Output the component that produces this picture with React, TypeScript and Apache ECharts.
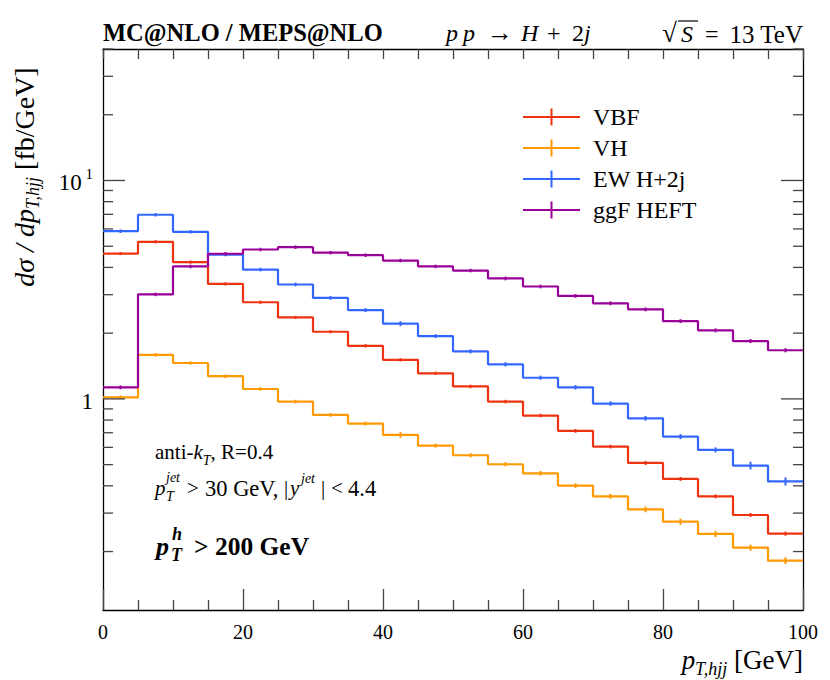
import React, { useEffect, useRef } from "react";
import * as echarts from "echarts";

// ---------- data ----------
const binEdges = [0, 5, 10, 15, 20, 25, 30, 35, 40, 45, 50, 55, 60, 65, 70, 75, 80, 85, 90, 95, 100];
const seriesNames = ["VBF", "VH", "EW H+2j", "ggF HEFT"];
const seriesColors = ["#EE3311", "#FF9900", "#3366FF", "#990099"];

const vbf = [4.63, 5.24, 4.23, 3.36, 2.77, 2.36, 2.03, 1.75, 1.51, 1.31, 1.14, 0.972, 0.839, 0.714, 0.605, 0.509, 0.43, 0.358, 0.294, 0.2415];
const vh = [1.017, 1.59, 1.46, 1.27, 1.11, 0.972, 0.845, 0.771, 0.684, 0.611, 0.552, 0.502, 0.456, 0.401, 0.358, 0.312, 0.274, 0.241, 0.2085, 0.1817];
const ew = [5.86, 6.97, 5.82, 4.58, 3.91, 3.34, 2.9, 2.55, 2.21, 1.94, 1.65, 1.44, 1.25, 1.13, 0.952, 0.815, 0.672, 0.584, 0.495, 0.419];
const ggf = [1.13, 3.01, 4.04, 4.62, 4.83, 4.95, 4.67, 4.55, 4.3, 4.04, 3.87, 3.56, 3.27, 2.96, 2.74, 2.57, 2.27, 2.06, 1.84, 1.67];

// relative statistical uncertainties (estimated)
const vbfErr = [0.006, 0.006, 0.006, 0.006, 0.006, 0.006, 0.006, 0.007, 0.007, 0.007, 0.008, 0.008, 0.008, 0.009, 0.009, 0.01, 0.01, 0.01, 0.011, 0.011];
const vhErr = [0.01, 0.008, 0.008, 0.008, 0.009, 0.009, 0.01, 0.01, 0.02, 0.01, 0.012, 0.012, 0.014, 0.014, 0.015, 0.02, 0.022, 0.022, 0.022, 0.025];
const ewErr = [0.008, 0.008, 0.008, 0.008, 0.009, 0.009, 0.009, 0.01, 0.015, 0.01, 0.011, 0.012, 0.012, 0.013, 0.013, 0.014, 0.016, 0.016, 0.03, 0.032];
const ggfErr = [0.01, 0.008, 0.008, 0.008, 0.008, 0.008, 0.008, 0.008, 0.008, 0.008, 0.008, 0.009, 0.009, 0.009, 0.01, 0.01, 0.01, 0.01, 0.011, 0.011];

const xMin = 0;
const xMax = 100;
const yMin = 0.108;
const yMax = 40;
const xLabelTicks = [0, 20, 40, 60, 80, 100];
const yMajorTicks = [1, 10];
const yMinorTicks = [0.2, 0.3, 0.4, 0.5, 0.6, 0.7, 0.8, 0.9, 2, 3, 4, 5, 6, 7, 8, 9, 20, 30, 40];

const FONT = '"Liberation Serif", "DejaVu Serif", serif';

function stepData(vals: number[]) {
  return binEdges.map((e, i) => [e, vals[Math.min(i, vals.length - 1)]]);
}
function errData(vals: number[], errs: number[]) {
  return vals.map((v, i) => [(binEdges[i] + binEdges[i + 1]) / 2, v, errs[i]]);
}

const tok = (size: number, italic = false, bold = false, extra: any = {}) => ({
  fontFamily: FONT,
  fontSize: size,
  fontStyle: italic ? "italic" : "normal",
  fontWeight: bold ? "bold" : "normal",
  fill: "#000",
  ...extra,
});

const txt = (x: number, y: number, text: string, style: any, align = "left") => ({
  type: "text",
  x,
  y,
  style: { text, ...style, align, verticalAlign: "middle" },
});

export default function App() {
  const ref = useRef<HTMLDivElement>(null);
  useEffect(() => {
    if (!ref.current) return;
    const chart = echarts.init(ref.current, null, { renderer: "svg" });
    const allVals = [vbf, vh, ew, ggf];
    const allErrs = [vbfErr, vhErr, ewErr, ggfErr];

    const lineSeries = allVals.map((vals, k) => ({
      name: seriesNames[k],
      type: "line",
      step: "end",
      data: stepData(vals),
      symbol: "none",
      xAxisIndex: 0,
      yAxisIndex: 0,
      lineStyle: { color: seriesColors[k], width: 2.2 },
      itemStyle: { color: seriesColors[k] },
      z: 3 + k,
    }));

    const errSeries = allVals.map((vals, k) => ({
      name: seriesNames[k] + "-err",
      type: "custom",
      xAxisIndex: 0,
      yAxisIndex: 0,
      data: errData(vals, allErrs[k]),
      encode: { x: 0, y: 1 },
      z: 3 + k,
      renderItem: (params: any, api: any) => {
        const x = api.value(0);
        const v = api.value(1);
        const e = api.value(2);
        const p1 = api.coord([x, v * (1 + e)]);
        const p2 = api.coord([x, v * (1 - e)]);
        return {
          type: "line",
          shape: { x1: p1[0], y1: p1[1] - 1, x2: p2[0], y2: p2[1] + 1 },
          style: { stroke: seriesColors[k], lineWidth: 2 },
        };
      },
    }));

    const tickData = [
      ...yMajorTicks.map((v) => [xMin, v, 1]),
      ...yMinorTicks.map((v) => [xMin, v, 0]),
    ];
    const tickSeries = {
      name: "yticks",
      type: "custom",
      xAxisIndex: 0,
      yAxisIndex: 0,
      data: tickData,
      encode: { x: 0, y: 1 },
      clip: false,
      z: 10,
      silent: true,
      renderItem: (params: any, api: any) => {
        const v = api.value(1);
        const major = api.value(2) === 1;
        const cs = params.coordSys;
        const y = api.coord([xMin, v])[1];
        const len = major ? 22 : 10;
        return {
          type: "group",
          children: [
            { type: "line", shape: { x1: cs.x, y1: y, x2: cs.x + len, y2: y }, style: { stroke: "#444", lineWidth: 1.3 } },
            { type: "line", shape: { x1: cs.x + cs.width - len, y1: y, x2: cs.x + cs.width, y2: y }, style: { stroke: "#444", lineWidth: 1.3 } },
          ],
        };
      },
    };

    const legendIcon = "path://M0,7.5h57v2h-57z M27.5,0h2v17h-2z";

    const option: any = {
      animation: false,
      backgroundColor: "#fff",
      grid: { left: 103, right: 27, top: 49, bottom: 70, containLabel: false },
      legend: {
        show: true,
        orient: "vertical",
        left: 518,
        top: 100,
        itemWidth: 57,
        itemHeight: 17,
        itemGap: 7,
        selectedMode: false,
        data: seriesNames.map((n) => ({ name: n, icon: legendIcon })),
        textStyle: { fontFamily: FONT, fontSize: 24, color: "#000", padding: [0, 0, 0, 8], lineHeight: 24 },
      },
      xAxis: [
        {
          type: "value",
          position: "bottom",
          min: xMin,
          max: xMax,
          interval: 20,
          axisLine: { show: true, onZero: false, lineStyle: { color: "#000", width: 1.3 } },
          axisTick: { show: true, inside: true, length: 21, lineStyle: { color: "#444", width: 1.3 } },
          minorTick: { show: true, splitNumber: 4, length: 10, lineStyle: { color: "#444", width: 1.3 } },
          splitLine: { show: false },
          minorSplitLine: { show: false },
          axisLabel: {
            fontFamily: FONT,
            fontSize: 20,
            color: "#000",
            margin: 12,
            formatter: (v: number) => (xLabelTicks.includes(Math.round(v)) ? String(Math.round(v)) : ""),
          },
        },
        {
          type: "value",
          position: "top",
          min: xMin,
          max: xMax,
          interval: 5,
          axisLine: { show: true, onZero: false, lineStyle: { color: "#000", width: 1.3 } },
          axisTick: { show: true, inside: true, length: 10, lineStyle: { color: "#444", width: 1.3 } },
          splitLine: { show: false },
          axisLabel: { show: false },
        },
      ],
      yAxis: [
        {
          type: "log",
          logBase: 10,
          position: "left",
          min: yMin,
          max: yMax,
          axisLine: { show: true, onZero: false, lineStyle: { color: "#000", width: 1.3 } },
          axisTick: { show: false },
          splitLine: { show: false },
          axisLabel: {
            show: true,
            margin: 10,
            showMinLabel: false,
            showMaxLabel: false,
            formatter: (v: number) => {
              const r = Math.round(v * 1000) / 1000;
              if (r === 1) return "{n|1}";
              if (r === 10) return "{n|10}{s| 1}";
              return "";
            },
            rich: {
              n: { fontFamily: FONT, fontSize: 23, color: "#000", lineHeight: 28, verticalAlign: "bottom" },
              s: { fontFamily: FONT, fontSize: 15, color: "#000", lineHeight: 14, verticalAlign: "top" },
            },
          },
        },
        {
          type: "log",
          logBase: 10,
          position: "right",
          min: yMin,
          max: yMax,
          axisLine: { show: true, onZero: false, lineStyle: { color: "#000", width: 1.3 } },
          axisTick: { show: false },
          splitLine: { show: false },
          axisLabel: { show: false },
        },
      ],
      series: [...lineSeries, ...errSeries, tickSeries],
      graphic: [
        txt(103, 32, "MC@NLO / MEPS@NLO", tok(24.5, false, true)),
        // p p -> H + 2j
        txt(446, 33, "p", tok(24, true)),
        txt(463, 33, "p", tok(24, true)),
        txt(487, 32, "→", tok(26)),
        txt(521, 33, "H", tok(24, true)),
        txt(547, 33, "+", tok(24)),
        txt(572, 33, "2", tok(24)),
        txt(584, 33, "j", tok(24, true)),
        // sqrt(S) = 13 TeV
        txt(662, 33, "√", tok(27)),
        txt(681, 34, "S", tok(24, true)),
        { type: "line", shape: { x1: 678, y1: 21, x2: 698, y2: 21 }, style: { stroke: "#000", lineWidth: 1.2 } },
        txt(705, 34, "=", tok(24)),
        txt(803, 34, "13 TeV", tok(25), "right"),
        {
          type: "text",
          x: 26,
          y: 177,
          rotation: Math.PI / 2,
          style: {
            text: "{i|dσ / dp}{sub|T,hjj}{n| [fb/GeV]}",
            rich: {
              i: tok(28, true, false, { lineHeight: 32, verticalAlign: "top" }),
              sub: tok(18, true, false, { lineHeight: 15, verticalAlign: "bottom" }),
              n: tok(28, false, false, { lineHeight: 32, verticalAlign: "top" }),
            },
            ...tok(28),
            align: "center",
            verticalAlign: "middle",
          },
        },
        {
          type: "text",
          x: 803,
          y: 662,
          style: {
            text: "{i|p}{sub|T,hjj}{n| [GeV]}",
            rich: {
              i: tok(27, true, false, { lineHeight: 31, verticalAlign: "top" }),
              sub: tok(18, true, false, { lineHeight: 15, verticalAlign: "bottom" }),
              n: tok(27, false, false, { lineHeight: 31, verticalAlign: "top" }),
            },
            ...tok(27),
            align: "right",
            verticalAlign: "middle",
          },
        },
        {
          type: "text",
          x: 155,
          y: 454,
          style: {
            text: "{n|anti-}{i|k}{sub|T}{n|, R=0.4}",
            rich: {
              n: tok(21, false, false, { lineHeight: 26, verticalAlign: "top" }),
              i: tok(21, true, false, { lineHeight: 26, verticalAlign: "top" }),
              sub: tok(14, true, false, { lineHeight: 13, verticalAlign: "bottom" }),
            },
            ...tok(21),
            verticalAlign: "middle",
          },
        },
        txt(155, 488, "p", tok(21, true)),
        txt(166, 477, "jet", tok(14, true)),
        txt(166, 496, "T", tok(14, true)),
        txt(187, 488, ">", tok(21)),
        txt(205, 488, "30 GeV,", tok(22.5)),
        txt(284, 488, "|", tok(21)),
        txt(290, 488, "y", tok(21, true)),
        txt(301, 478, "jet", tok(14, true)),
        txt(321, 488, "|", tok(21)),
        txt(331, 488, "<", tok(21)),
        txt(348, 488, "4.4", tok(22.5)),
        txt(156, 546, "p", tok(26, true, true)),
        txt(172, 534, "h", tok(18, true, true)),
        txt(171, 555, "T", tok(18, true, true)),
        txt(194, 546, "> 200 GeV", tok(25.5, false, true)),
      ],
    };
    chart.setOption(option);
    return () => chart.dispose();
  }, []);

  return (
    <div
      ref={ref}
      style={{ position: "absolute", left: 0, top: 0, width: 830, height: 680, background: "#fff" }}
    />
  );
}
